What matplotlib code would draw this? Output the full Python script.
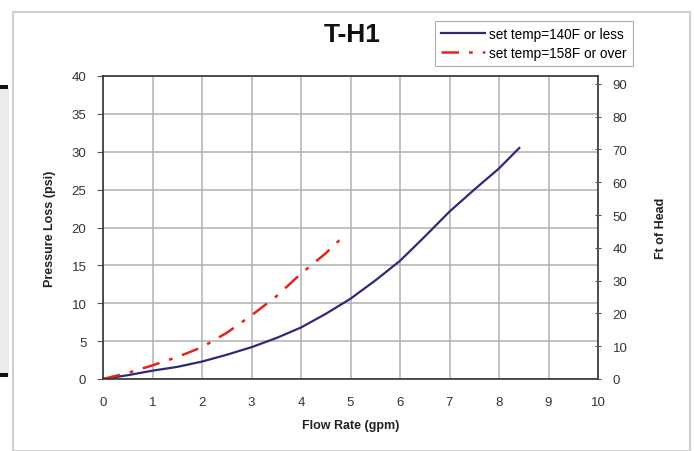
import matplotlib
matplotlib.use("Agg")
import matplotlib.pyplot as plt
from matplotlib.patches import Rectangle

plt.rcParams['font.family'] = ['Liberation Sans', 'DejaVu Sans']

# Data
flow_low = [0, 0.5, 1, 1.5, 2, 2.5, 3, 3.5, 4, 4.5, 5, 5.5, 6, 6.5, 7, 7.5, 8, 8.41]
psi_low = [0, 0.5, 1.1, 1.6, 2.3, 3.2, 4.2, 5.4, 6.8, 8.6, 10.6, 13.0, 15.6, 18.8, 22.1, 25.0, 27.8, 30.5]
flow_high = [0, 0.5, 1, 1.5, 2, 2.5, 3, 3.5, 4, 4.5, 4.82]
psi_high = [0, 0.8, 1.8, 2.9, 4.2, 6.1, 8.4, 10.9, 13.9, 16.6, 18.6]

x_ticks = list(range(0, 11))
y_ticks = [0, 5, 10, 15, 20, 25, 30, 35, 40]
ft_ticks = [0, 10, 20, 30, 40, 50, 60, 70, 80, 90]
PSI_TO_FT = 2.31

fig = plt.figure(figsize=(6.94, 4.52), dpi=100)
W, H = 694, 452

# page frame / artifacts
fig.add_artist(Rectangle((13 / W, 0), (690 - 13) / W, (452 - 13) / H,
                         transform=fig.transFigure, fill=False,
                         edgecolor='#d0d0d0', linewidth=1.5))
fig.add_artist(Rectangle((0, (452 - 376) / H), 9 / W, (376 - 88) / H,
                         transform=fig.transFigure, facecolor='#ececec',
                         edgecolor='none'))
for yy in (88, 376):
    fig.add_artist(Rectangle((0, (452 - yy - 2) / H), 8 / W, 4 / H,
                             transform=fig.transFigure, facecolor='#111111',
                             edgecolor='none'))

ax = fig.add_axes([103 / W, (452 - 380) / H, (598 - 103) / W, (380 - 77) / H])
ax.plot(flow_low, psi_low, color='#2b2b7a', linewidth=1.6,
        label='set temp=140F or less')
ax.plot(flow_high, psi_high, color='#e8211d', linewidth=1.8,
        dashes=(7, 4, 1.5, 4), label='set temp=158F or over')

ax.set_xlim(0, 10)
ax.set_ylim(0, 40)
ax.set_xticks(x_ticks)
ax.set_yticks(y_ticks)
ax.grid(True, color='#b0b0b0', linewidth=1.1)
ax.set_axisbelow(True)
for s in ax.spines.values():
    s.set_color('#333333')
    s.set_linewidth(1.2)
ax.tick_params(axis='both', colors='#555555', labelcolor='#333333',
               labelsize=9.5, length=4, direction='out')
ax.tick_params(axis='y', pad=8)
ax.tick_params(axis='x', length=0, pad=12)
ax.set_xlabel('Flow Rate (gpm)', fontsize=9, fontweight='bold', color='#222222', labelpad=8)
ax.set_ylabel('Pressure Loss (psi)', fontsize=9, fontweight='bold', color='#222222', labelpad=11)

ax2 = ax.twinx()
ax2.set_ylim(0, 40 * PSI_TO_FT)
ax2.set_yticks(ft_ticks)
ax2.tick_params(axis='y', colors='#555555', labelcolor='#333333',
                labelsize=9.5, length=5, direction='inout', pad=8)
ax2.set_ylabel('Ft of Head', fontsize=9, fontweight='bold', color='#222222', labelpad=20)
for s in ax2.spines.values():
    s.set_visible(False)

fig.text(352 / W, 1 - 35 / H, 'T-H1', fontsize=19, fontweight='bold',
         ha='center', va='center', color='#111111')

leg = ax.legend(loc='upper left', bbox_to_anchor=(435 / W, 1 - 22 / H),
                bbox_transform=fig.transFigure, fontsize=9.8, frameon=True,
                fancybox=False, edgecolor='#999999', handlelength=3.2,
                handletextpad=0.35, borderpad=0.45, labelspacing=0.35,
                borderaxespad=0)
leg.get_frame().set_linewidth(0.8)

fig.savefig('out.png', dpi=100)
